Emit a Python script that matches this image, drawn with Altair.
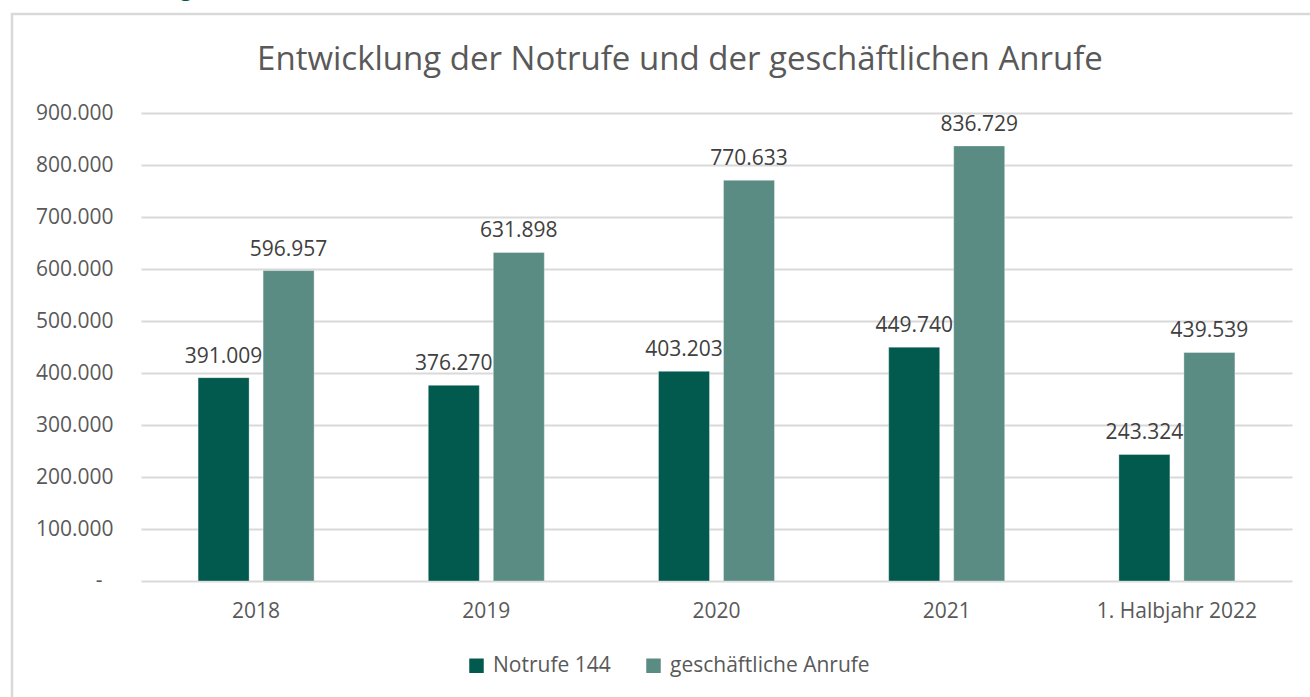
import altair as alt
import pandas as pd

categories = ["2018", "2019", "2020", "2021", "1. Halbjahr 2022"]
series = ["Notrufe 144", "geschäftliche Anrufe"]
notrufe = [391009, 376270, 403203, 449740, 243324]
geschaeftlich = [596957, 631898, 770633, 836729, 439539]
y_ticks = [0, 100000, 200000, 300000, 400000, 500000, 600000, 700000, 800000, 900000]
title_text = "Entwicklung der Notrufe und der geschäftlichen Anrufe"

rows = []
for c, a, b in zip(categories, notrufe, geschaeftlich):
    rows.append({"Kategorie": c, "Serie": series[0], "Wert": a})
    rows.append({"Kategorie": c, "Serie": series[1], "Wert": b})
df = pd.DataFrame(rows)

FONT = "Open Sans"
TXT = "#595959"
DARK = "#02594D"
LIGHT = "#5A8C84"

W, H = 1151, 468
PL, PT = 141, 113

x_enc = alt.X("Kategorie:N", sort=categories, title=None,
              scale=alt.Scale(paddingInner=0.496, paddingOuter=0.248),
              axis=alt.Axis(labelAngle=0, labelFont=FONT, labelFontSize=21,
                            labelColor=TXT, ticks=False, domain=False,
                            labelPadding=19, grid=False))
xoff = alt.XOffset("Serie:N", sort=series,
                   scale=alt.Scale(paddingInner=0.215, paddingOuter=0))
y_scale = alt.Scale(domain=[0, 900000], nice=False)

base = alt.Chart(df)

frame = alt.Chart(pd.DataFrame({"k": [0]})).mark_rect(
    fill=None, stroke="#d9d9d9", strokeWidth=2.5, clip=False
).encode(x=alt.value(12 - PL), x2=alt.value(1330 - PL),
         y=alt.value(14 - PT), y2=alt.value(720 - PT))

bars = base.mark_bar(stroke="#ffffff", strokeOpacity=0.35, strokeWidth=1).encode(
    x=x_enc,
    xOffset=xoff,
    y=alt.Y("Wert:Q", scale=y_scale, title=None,
            axis=alt.Axis(values=y_ticks, labelFont=FONT, labelFontSize=21,
                          labelColor=TXT, ticks=False, domain=False,
                          labelPadding=28, gridColor="#d9d9d9", gridWidth=2,
                          labelExpr="datum.value == 0 ? '' : replace(format(datum.value, ',d'), ',', '.')")),
    color=alt.Color("Serie:N", sort=series,
                    scale=alt.Scale(domain=series, range=[DARK, LIGHT]),
                    legend=alt.Legend(title=None, orient="none", direction="horizontal",
                                      legendX=325, legendY=542, symbolType="square",
                                      symbolSize=210, symbolStrokeWidth=0,
                                      labelFont=FONT, labelFontSize=21, labelLimit=0,
                                      labelColor=TXT, columnPadding=32,
                                      labelOffset=6)),
)

zero_lbl = alt.Chart(pd.DataFrame({"v": [0], "t": ["-"]})).mark_text(
    font=FONT, fontSize=21, color=TXT, align="center", baseline="middle"
).encode(x=alt.value(99 - PL), y=alt.Y("v:Q", scale=y_scale), text="t:N")

labels = base.mark_text(font=FONT, fontSize=21, color="#404040",
                        baseline="bottom", dy=-11).encode(
    x=alt.X("Kategorie:N", sort=categories),
    xOffset=xoff,
    y=alt.Y("Wert:Q", scale=y_scale),
    text=alt.Text("lbl:N"),
).transform_calculate(lbl="replace(format(datum.Wert, ',d'), ',', '.')")

title = alt.Chart(pd.DataFrame({"t": [title_text]})).mark_text(
    font=FONT, fontSize=33, color=TXT, align="center", baseline="middle"
).encode(x=alt.value(680 - PL), y=alt.value(60 - PT), text="t:N")

top_g = alt.Chart(pd.DataFrame({"t": ["g"]})).mark_text(
    font=FONT, fontSize=22, color="#00594D", align="left", baseline="alphabetic"
).encode(x=alt.value(180 - PL), y=alt.value(-4 - PT), text="t:N")

chart = alt.layer(frame, bars, labels, zero_lbl, title, top_g).properties(
    width=W, height=H,
    background="#ffffff",
    autosize=alt.AutoSizeParams(type="none"),
    padding={"left": PL, "top": PT, "right": 1310 - PL - W, "bottom": 697 - PT - H},
).configure_view(stroke=None)

chart.save("out.html", embed_options={"renderer": "svg", "actions": False})
